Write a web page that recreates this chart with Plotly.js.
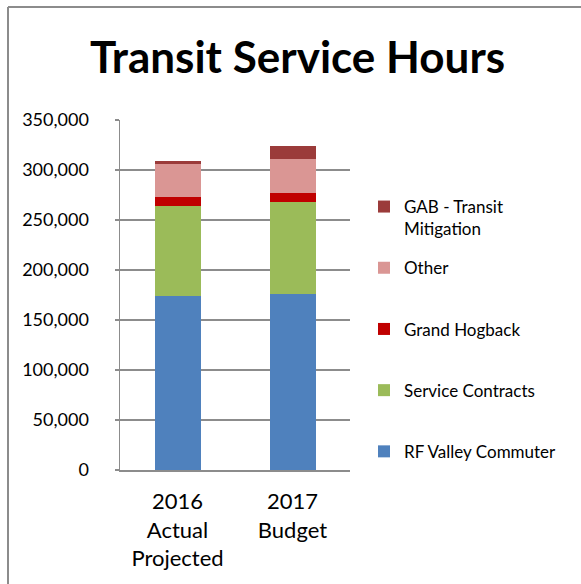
<!DOCTYPE html>
<html>
<head>
<meta charset="utf-8">
<script src="https://cdn.plot.ly/plotly-3.0.1.min.js"></script>
<style>html,body{margin:0;padding:0;background:#fff;overflow:hidden;}</style>
</head>
<body>
<div id="chart" style="width:581px;height:584px;"></div>
<script>
var categories = ["2016<br>Actual<br>Projected", "2017<br>Budget"];
var seriesNames = ["RF Valley Commuter", "Service Contracts", "Grand Hogback", "Other", "GAB - Transit<br>Mitigation"];
var rfValleyCommuter = [173800, 175800];
var serviceContracts = [90700, 92000];
var grandHogback = [8300, 9300];
var other = [32800, 33800];
var gabTransitMitigation = [3300, 13400];
var seriesColors = ["#4F81BD", "#9BBB59", "#C00000", "#DA9694", "#9B3B3A"];
var yTickVals = [0, 50000, 100000, 150000, 200000, 250000, 300000, 350000];

var values = [rfValleyCommuter, serviceContracts, grandHogback, other, gabTransitMitigation];
var legendPad = ["<br>\u00a0", "<br>\u00a0", "<br>\u00a0", "<br>\u00a0", ""];
var traces = values.map(function (v, i) {
  return {
    type: "bar",
    x: [0, 1],
    y: v,
    name: seriesNames[i] + legendPad[i],
    legendgroup: "g" + i,
    legendrank: (values.length - i) * 100,
    marker: {color: seriesColors[i], line: {width: 0}},
    hoverinfo: "skip"
  };
});

function px2x(px) { return (px - 120) / 230; }
function px2y(py) { return (470 - py) / 350; }

var layout = {
  width: 581,
  height: 584,
  margin: {l: 120, r: 231, t: 120, b: 114},
  paper_bgcolor: "#ffffff",
  plot_bgcolor: "#ffffff",
  barmode: "stack",
  bargap: 0.6,
  showlegend: true,
  font: {family: "Lato, 'Open Sans', sans-serif", color: "#000000"},
  title: {
    text: "<b>Transit Service Hours</b>",
    font: {family: "Lato, sans-serif", size: 44, color: "#000000"},
    x: 0.512, xref: "container", xanchor: "center",
    y: 1 - 58 / 584, yref: "container", yanchor: "middle"
  },
  xaxis: {
    tickmode: "array",
    tickvals: [0, 1],
    ticktext: categories,
    range: [-0.5, 1.5],
    showgrid: false,
    zeroline: false,
    showline: true,
    linecolor: "#8c8c8c",
    linewidth: 1.5,
    ticks: "",
    tickfont: {family: "Lato, sans-serif", size: 22, color: "#000000"},
    ticklabelstandoff: 11
  },
  yaxis: {
    range: [0, 350000],
    tickmode: "array",
    tickvals: yTickVals,
    tickformat: ",d",
    showgrid: true,
    gridcolor: "#8c8c8c",
    gridwidth: 1.5,
    zeroline: false,
    showline: true,
    linecolor: "#8c8c8c",
    linewidth: 1.5,
    ticks: "outside",
    ticklen: 4,
    tickcolor: "#8c8c8c",
    tickwidth: 1.5,
    tickfont: {family: "Lato, sans-serif", size: 18, color: "#000000"},
    ticklabelstandoff: 22
  },
  legend: {
    x: px2x(364), xanchor: "left",
    y: px2y(189), yanchor: "top",
    traceorder: "grouped",
    tracegroupgap: 14,
    valign: "top",
    font: {family: "Lato, sans-serif", size: 17, color: "#000000"},
    bgcolor: "rgba(0,0,0,0)",
    borderwidth: 0
  },
  shapes: [
    {type: "line", xref: "paper", yref: "paper", x0: px2x(8), x1: px2x(600), y0: px2y(7), y1: px2y(7), line: {color: "#8c8c8c", width: 2}},
    {type: "line", xref: "paper", yref: "paper", x0: px2x(8), x1: px2x(8), y0: px2y(7), y1: px2y(600), line: {color: "#8c8c8c", width: 2}}
  ]
};

Plotly.newPlot("chart", traces, layout, {staticPlot: true, displayModeBar: false});
</script>
</body>
</html>
